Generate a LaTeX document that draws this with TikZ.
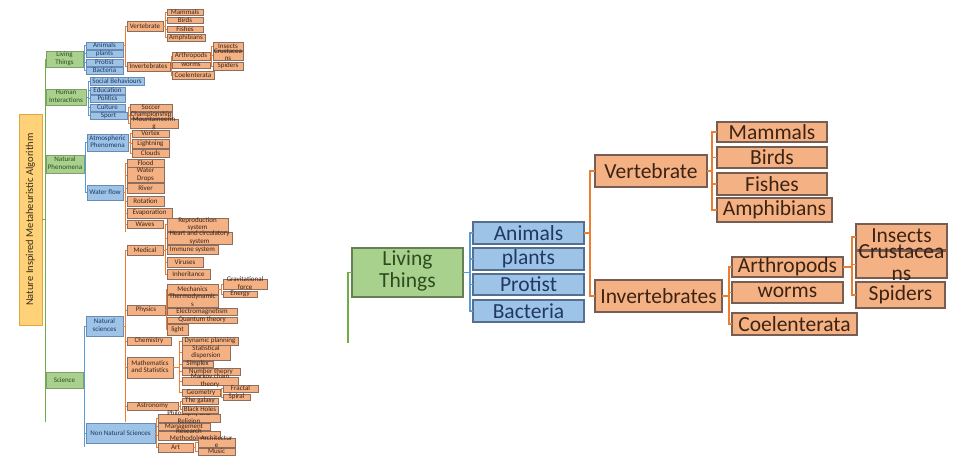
\documentclass[tikz,border=0pt]{standalone}
\usepackage{fontspec}
\setmainfont{Carlito}
\definecolor{gfill}{HTML}{A9D18E}
\definecolor{gline}{HTML}{7F9F6A}
\definecolor{gtext}{HTML}{2E4A1E}
\definecolor{bfill}{HTML}{9DC3E6}
\definecolor{bline}{HTML}{6A8BB5}
\definecolor{btext}{HTML}{1F3864}
\definecolor{ofill}{HTML}{F4B183}
\definecolor{oline}{HTML}{8C6E60}
\definecolor{otext}{HTML}{3D2314}
\definecolor{tfill}{HTML}{FFD27A}
\definecolor{tline}{HTML}{E3A63C}
\definecolor{ttext}{HTML}{3A2E1A}
\definecolor{gcon}{HTML}{70AD47}
\definecolor{bcon}{HTML}{5B9BD5}
\definecolor{ocon}{HTML}{ED7D31}
\newcommand\smf{\fontsize{7}{7.5}\selectfont}
\newcommand\bgf{\fontsize{21.5}{22}\selectfont}
\newcommand\ml[1]{\begin{tabular}{@{}c@{}}#1\end{tabular}}
\newcommand\ovl[1]{\smash{\raisebox{-.25em}{\begin{tabular}{@{}c@{}}#1\end{tabular}}}}
\newcommand\bx[7]{\node[#2, minimum width={(#5-#3)*1pt}, minimum height={(#6-#4)*1pt}] (#1) at ({(#3+#5)/2},{(#4+#6)/2}) {#7};}
\newcommand\cn[4]{\foreach \c in {#4}{\draw[#1] (#2.east) -| ([xshift=-#3pt]\c.west) -- (\c.west);}}
\tikzset{
  base/.style={draw, inner sep=0pt, outer sep=0pt, font=\smf, line width=0.4pt},
  gnode/.style={base, fill=gfill, draw=gline, text=gtext},
  bnode/.style={base, fill=bfill, draw=bline, text=btext},
  onode/.style={base, fill=ofill, draw=oline, text=otext},
  tnode/.style={base, fill=tfill, draw=tline, text=ttext, font=\fontsize{10.5}{11}\selectfont},
  bigG/.style={gnode, font=\bgf, line width=1.3pt, draw=gline!80!black},
  bigB/.style={bnode, font=\bgf, line width=1.3pt, draw=bline!80!black},
  bigO/.style={onode, font=\bgf, line width=1.3pt, draw=oline!85!black},
  lg/.style={draw=gcon, line width=0.6pt},
  lb/.style={draw=bcon, line width=0.6pt},
  lo/.style={draw=ocon, line width=0.6pt},
  Lg/.style={draw=gcon, line width=1.8pt},
  Lb/.style={draw=bcon, line width=1.8pt},
  Lo/.style={draw=ocon, line width=1.8pt},
}
\begin{document}
\begin{tikzpicture}[x=1pt,y=-1pt]
\useasboundingbox (0,0) rectangle (960,456);
\fill[white] (0,0) rectangle (960,456);
% ---------- left tree ----------
\bx{T}{tnode}{19}{114}{42}{325}{\rotatebox{90}{Nature Inspired Metaheuristic Algorithm}}
\bx{LT}{gnode}{46}{51}{83}{67}{\ml{Living\\Things}}
\bx{HI}{gnode}{46}{89}{86}{105}{\ml{Human\\Interactions}}
\bx{NP}{gnode}{46}{155}{84}{173}{\ml{Natural\\Phenomena}}
\bx{SC}{gnode}{46}{372}{83}{388}{Science}
% blue
\bx{An}{bnode}{86}{42}{123}{49}{Animals}
\bx{Pl}{bnode}{86}{50}{123}{57}{plants}
\bx{Pr}{bnode}{86}{59}{123}{66}{Protist}
\bx{Ba}{bnode}{86}{67}{123}{74}{Bacteria}
\bx{SB}{bnode}{90}{77}{144}{85}{Social Behaviours}
\bx{Ed}{bnode}{90}{87}{125}{94}{Education}
\bx{Po}{bnode}{90}{95}{125}{102}{Politics}
\bx{Cu}{bnode}{90}{104}{125}{111}{Culture}
\bx{Sp}{bnode}{90}{112}{127}{119}{Sport}
\bx{AP}{bnode}{87}{134}{128}{151}{\ml{Atmospheric\\Phenomena}}
\bx{WF}{bnode}{87}{185}{123}{200}{Water flow}
\bx{NS}{bnode}{86}{316}{123}{336}{\ml{Natural\\sciences}}
\bx{NN}{bnode}{86}{423}{155}{443}{Non Natural Sciences}
% orange level 3
\bx{Ve}{onode}{127}{21}{163}{31}{Vertebrate}
\bx{In}{onode}{127}{62}{170}{71}{Invertebrates}
\bx{So}{onode}{130}{104}{172}{111}{Soccer}
\bx{Ch}{onode}{130}{112}{172}{118}{Championship}
\bx{Mo}{onode}{130}{119}{178}{128}{\ovl{Mountaineerin\\g}}
\bx{Vo}{onode}{132}{130}{169}{137}{Vortex}
\bx{Li}{onode}{132}{139}{169}{148}{Lightning}
\bx{Cl}{onode}{132}{149}{169}{157}{Clouds}
\bx{Fl}{onode}{127}{159}{164}{167}{Flood}
\bx{WD}{onode}{127}{168}{164}{182}{\ml{Water\\Drops}}
\bx{Ri}{onode}{127}{183}{164}{193}{River}
\bx{Ro}{onode}{127}{196}{164}{206}{Rotation}
\bx{Ev}{onode}{127}{208}{172}{218}{Evaporation}
\bx{Wa}{onode}{127}{220}{163}{228}{Waves}
\bx{Me}{onode}{127}{245}{163}{255}{Medical}
\bx{Ph}{onode}{127}{305}{165}{315}{Physics}
\bx{Cm}{onode}{127}{337}{171}{345}{Chemistry}
\bx{MS}{onode}{127}{357}{173}{378}{\ml{Mathematics\\and Statistics}}
\bx{As}{onode}{127}{402}{178}{410}{Astronomy}
\bx{PR}{onode}{158}{414}{220}{422}{\ovl{Philosophy and\\Religion}}
\bx{Mg}{onode}{158}{423}{210}{430}{Management}
\bx{RM}{onode}{158}{431}{220}{440}{\ovl{Research\\Methodology}}
\bx{Ar}{onode}{158}{443}{193}{452}{Art}
% level 4
\bx{Ma}{onode}{167}{9}{203}{15}{Mammals}
\bx{Bi}{onode}{167}{17}{203}{23}{Birds}
\bx{Fi}{onode}{167}{26}{203}{32}{Fishes}
\bx{Am}{onode}{167}{34}{205}{41}{Amphibians}
\bx{Ah}{onode}{172}{52}{210}{60}{Arthropods}
\bx{Wo}{onode}{172}{62}{210}{68}{worms}
\bx{Co}{onode}{172}{71}{214}{79}{Coelenterata}
\bx{RS}{onode}{167}{218}{228}{231}{\ovl{Reproduction\\system}}
\bx{HC}{onode}{167}{232}{232}{244}{\ovl{Heart and circulatory\\system}}
\bx{IS}{onode}{167}{245}{218}{254}{Immune system}
\bx{Vi}{onode}{167}{257}{203}{267}{Viruses}
\bx{Ih}{onode}{167}{269}{210}{279}{Inheritance}
\bx{Mc}{onode}{167}{284}{218}{294}{Mechanics}
\bx{Th}{onode}{167}{295}{218}{307}{\ovl{Thermodynamic\\s}}
\bx{El}{onode}{167}{308}{237}{315}{Electromagnetism}
\bx{Qu}{onode}{167}{317}{237}{323}{Quantum theory}
\bx{Lt}{onode}{167}{324}{188}{335}{light}
\bx{DP}{onode}{182}{337}{238}{345}{Dynamic planning}
\bx{SD}{onode}{182}{346}{230}{359}{\ml{Statistical\\dispersion}}
\bx{Si}{onode}{182}{361}{213}{367}{Simplex}
\bx{NT}{onode}{182}{368}{240}{375}{Number theory}
\bx{MC}{onode}{182}{377}{238}{385}{\ovl{Markov chain\\theory}}
\bx{Ge}{onode}{182}{389}{220}{396}{Geometry}
\bx{TG}{onode}{182}{398}{218}{404}{The galaxy}
\bx{BH}{onode}{182}{406}{218}{413}{Black Holes}
\bx{Ac}{onode}{198}{438}{235}{447}{\ovl{Architectur\\e}}
\bx{Mu}{onode}{198}{448}{235}{455}{Music}
% level 5
\bx{Is}{onode}{213}{42}{243}{50}{Insects}
\bx{Cr}{onode}{213}{51}{243}{60}{\ovl{Crustacea\\ns}}
\bx{Sd}{onode}{213}{62}{243}{70}{Spiders}
\bx{GF}{onode}{223}{279}{267}{289}{\ovl{Gravitational\\force}}
\bx{En}{onode}{223}{291}{257}{297}{Energy}
\bx{Fr}{onode}{223}{385}{258}{392}{Fractal}
\bx{Sl}{onode}{223}{394}{250}{400}{Spiral}
% connectors
\coordinate (gext) at (45,422);
\coordinate (bext) at (84.5,447);
\coordinate (oext) at (125,422);
\coordinate (wext) at (125,232);
\draw[lg] (T.east) -| (gext);
\draw[lb] (SC.east) -| (bext);
\draw[lo] (NS.east) -| (oext);
\draw[lo] (WF.east) -| (wext);
\cn{lg}{T}{1}{LT,HI,NP,SC}
\cn{lb}{LT}{1.5}{An,Pl,Pr,Ba}
\cn{lb}{HI}{2}{SB,Ed,Po,Cu,Sp}
\cn{lb}{NP}{1.5}{AP,WF}
\cn{lb}{SC}{1.5}{NS,NN}
\cn{lo}{An}{2}{Ve,In}
\cn{lo}{Ve}{2}{Ma,Bi,Fi,Am}
\cn{lo}{In}{1}{Ah,Wo,Co}
\cn{lo}{Ah}{1.5}{Is,Cr,Sd}
\cn{lo}{Sp}{1.5}{So,Ch,Mo}
\cn{lo}{AP}{2}{Vo,Li,Cl}
\cn{lo}{WF}{2}{Fl,WD,Ri,Ro,Ev,Wa}
\cn{lo}{NS}{2}{Me,Ph,Cm,MS,As}
\cn{lo}{Me}{2}{RS,HC,IS,Vi,Ih}
\cn{lo}{Ph}{1}{Mc,Th,El,Qu,Lt}
\cn{lo}{Mc}{2}{GF,En}
\cn{lo}{MS}{3}{DP,SD,Si,NT,MC,Ge}
\cn{lo}{Ge}{1.5}{Fr,Sl}
\cn{lo}{As}{1.5}{TG,BH}
\cn{lo}{NN}{1.5}{PR,Mg,RM,Ar}
\cn{lo}{Ar}{2.5}{Ac,Mu}
% ---------- right enlarged view ----------
\bx{LT2}{bigG}{352}{248}{463}{297}{\ml{Living\\Things}}
\bx{An2}{bigB}{473}{222}{584}{244}{Animals}
\bx{Pl2}{bigB}{473}{248}{584}{270}{plants}
\bx{Pr2}{bigB}{473}{274}{584}{295}{Protist}
\bx{Ba2}{bigB}{473}{300}{584}{322}{Bacteria}
\bx{Ve2}{bigO}{595}{155}{707}{187}{Vertebrate}
\bx{In2}{bigO}{595}{280}{722}{312}{Invertebrates}
\bx{Ma2}{bigO}{717}{122}{827}{142}{Mammals}
\bx{Bi2}{bigO}{717}{147}{827}{168}{Birds}
\bx{Fi2}{bigO}{717}{173}{827}{195}{Fishes}
\bx{Am2}{bigO}{717}{198}{832}{222}{Amphibians}
\bx{Ah2}{bigO}{732}{257}{843}{277}{Arthropods}
\bx{Wo2}{bigO}{732}{282}{843}{303}{worms}
\bx{Co2}{bigO}{732}{313}{857}{335}{Coelenterata}
\bx{Is2}{bigO}{856}{224}{947}{250}{\raisebox{2pt}{Insects}}
\bx{Cr2}{bigO}{856}{251}{947}{278}{\ovl{Crustacea\\ns}}
\bx{Sd2}{bigO}{856}{282}{945}{308}{Spiders}
\coordinate (rb) at (348,343);
\draw[Lg] (LT2.west) -| (rb);
\cn{Lb}{LT2}{3}{An2,Pl2,Pr2,Ba2}
\cn{Lo}{An2}{5}{Ve2,In2}
\cn{Lo}{Ve2}{5}{Ma2,Bi2,Fi2,Am2}
\cn{Lo}{In2}{3}{Ah2,Wo2,Co2}
\cn{Lo}{Ah2}{4}{Is2,Cr2,Sd2}
\end{tikzpicture}
\end{document}
